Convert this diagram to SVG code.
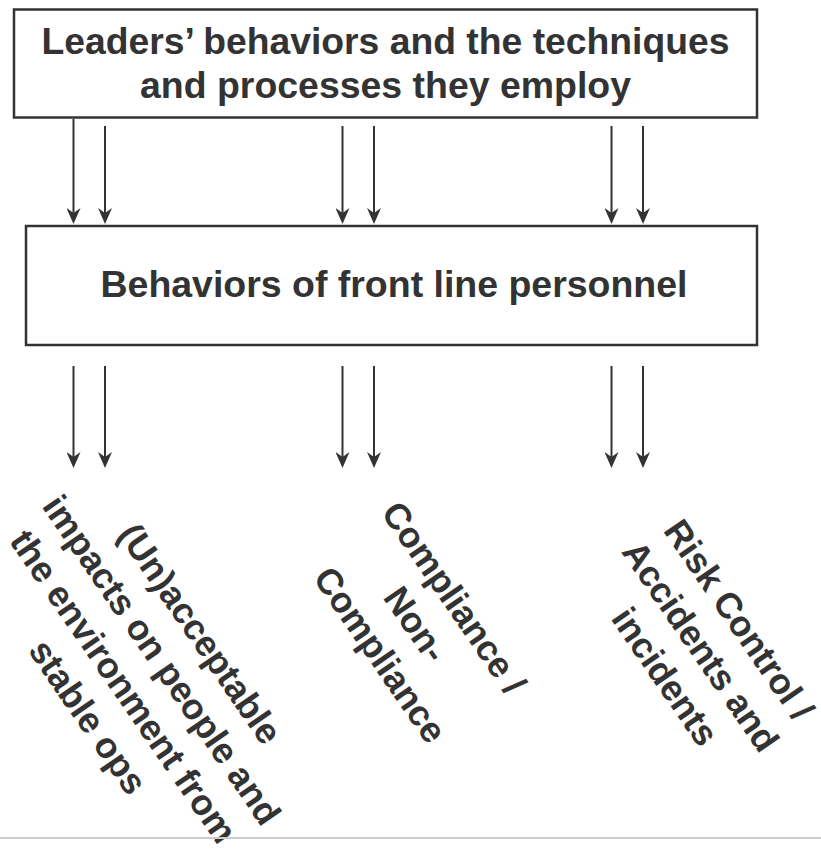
<svg xmlns="http://www.w3.org/2000/svg" width="821" height="851" viewBox="0 0 821 851">
  <style>
    .box { fill: #ffffff; stroke: #333333; stroke-width: 2.5; }
    .title { font-family: "Liberation Sans", Arial, sans-serif; font-weight: bold; font-size: 37px; fill: #333333; text-anchor: middle; }
    .label { font-family: "Liberation Sans", Arial, sans-serif; font-weight: bold; font-size: 36px; fill: #333333; text-anchor: middle; }
    .link { stroke: #333333; stroke-width: 2; fill: none; marker-end: url(#head); }
  </style>
  <defs>
    <marker id="head" markerUnits="userSpaceOnUse" markerWidth="16" markerHeight="14" viewBox="0 0 16 14" refX="12" refY="7" orient="auto">
      <path d="M16,7 L0,0 L5,7 L0,14 Z" fill="#333333"/>
    </marker>
  </defs>

  <rect width="821" height="851" fill="#ffffff"/>

  <!-- upper node -->
  <g id="leaders">
    <rect class="box" x="14" y="9.5" width="743" height="108"/>
    <text class="title" x="385.5" y="53.5" textLength="688" lengthAdjust="spacingAndGlyphs">Leaders’ behaviors and the techniques</text>
    <text class="title" x="385.5" y="98" textLength="491" lengthAdjust="spacingAndGlyphs">and processes they employ</text>
  </g>

  <!-- middle node -->
  <g id="frontline">
    <rect class="box" x="26" y="226" width="731" height="119"/>
    <text class="title" x="394" y="297" textLength="587" lengthAdjust="spacingAndGlyphs">Behaviors of front line personnel</text>
  </g>

  <!-- connectors -->
  <g id="connectors">
    <line class="link" x1="73.5" y1="119" x2="73.5" y2="220"/>
    <line class="link" x1="105" y1="126" x2="105" y2="220"/>
    <line class="link" x1="342.5" y1="126" x2="342.5" y2="220"/>
    <line class="link" x1="374" y1="126" x2="374" y2="220"/>
    <line class="link" x1="611.5" y1="126" x2="611.5" y2="220"/>
    <line class="link" x1="643" y1="126" x2="643" y2="220"/>

    <line class="link" x1="73.5" y1="366" x2="73.5" y2="464"/>
    <line class="link" x1="105" y1="366" x2="105" y2="464"/>
    <line class="link" x1="342.5" y1="366" x2="342.5" y2="464"/>
    <line class="link" x1="374" y1="366" x2="374" y2="464"/>
    <line class="link" x1="611.5" y1="366" x2="611.5" y2="464"/>
    <line class="link" x1="643" y1="366" x2="643" y2="464"/>
  </g>

  <!-- outcome nodes (slanted labels) -->
  <g id="impacts">
    <text class="label" transform="translate(146 677) rotate(55.5)">
      <tspan x="0" y="-56.75">(Un)acceptable</tspan>
      <tspan x="0" y="-10.25">impacts on people and</tspan>
      <tspan x="0" y="36.25">the environment from</tspan>
      <tspan x="0" y="82.75">stable ops</tspan>
    </text>
  </g>
  <g id="compliance">
    <text class="label" transform="translate(419 628) rotate(55.5)">
      <tspan x="0" y="-33.5">Compliance /</tspan>
      <tspan x="0" y="13">Non-</tspan>
      <tspan x="0" y="59.5">Compliance</tspan>
    </text>
  </g>
  <g id="risk">
    <text class="label" transform="translate(704 650) rotate(55.5)">
      <tspan x="0" y="-33.5">Risk Control /</tspan>
      <tspan x="0" y="13">Accidents and</tspan>
      <tspan x="0" y="59.5">incidents</tspan>
    </text>
  </g>

  <!-- footer rule -->
  <line x1="0" y1="838" x2="821" y2="838" stroke="#cccccc" stroke-width="2"/>
</svg>
